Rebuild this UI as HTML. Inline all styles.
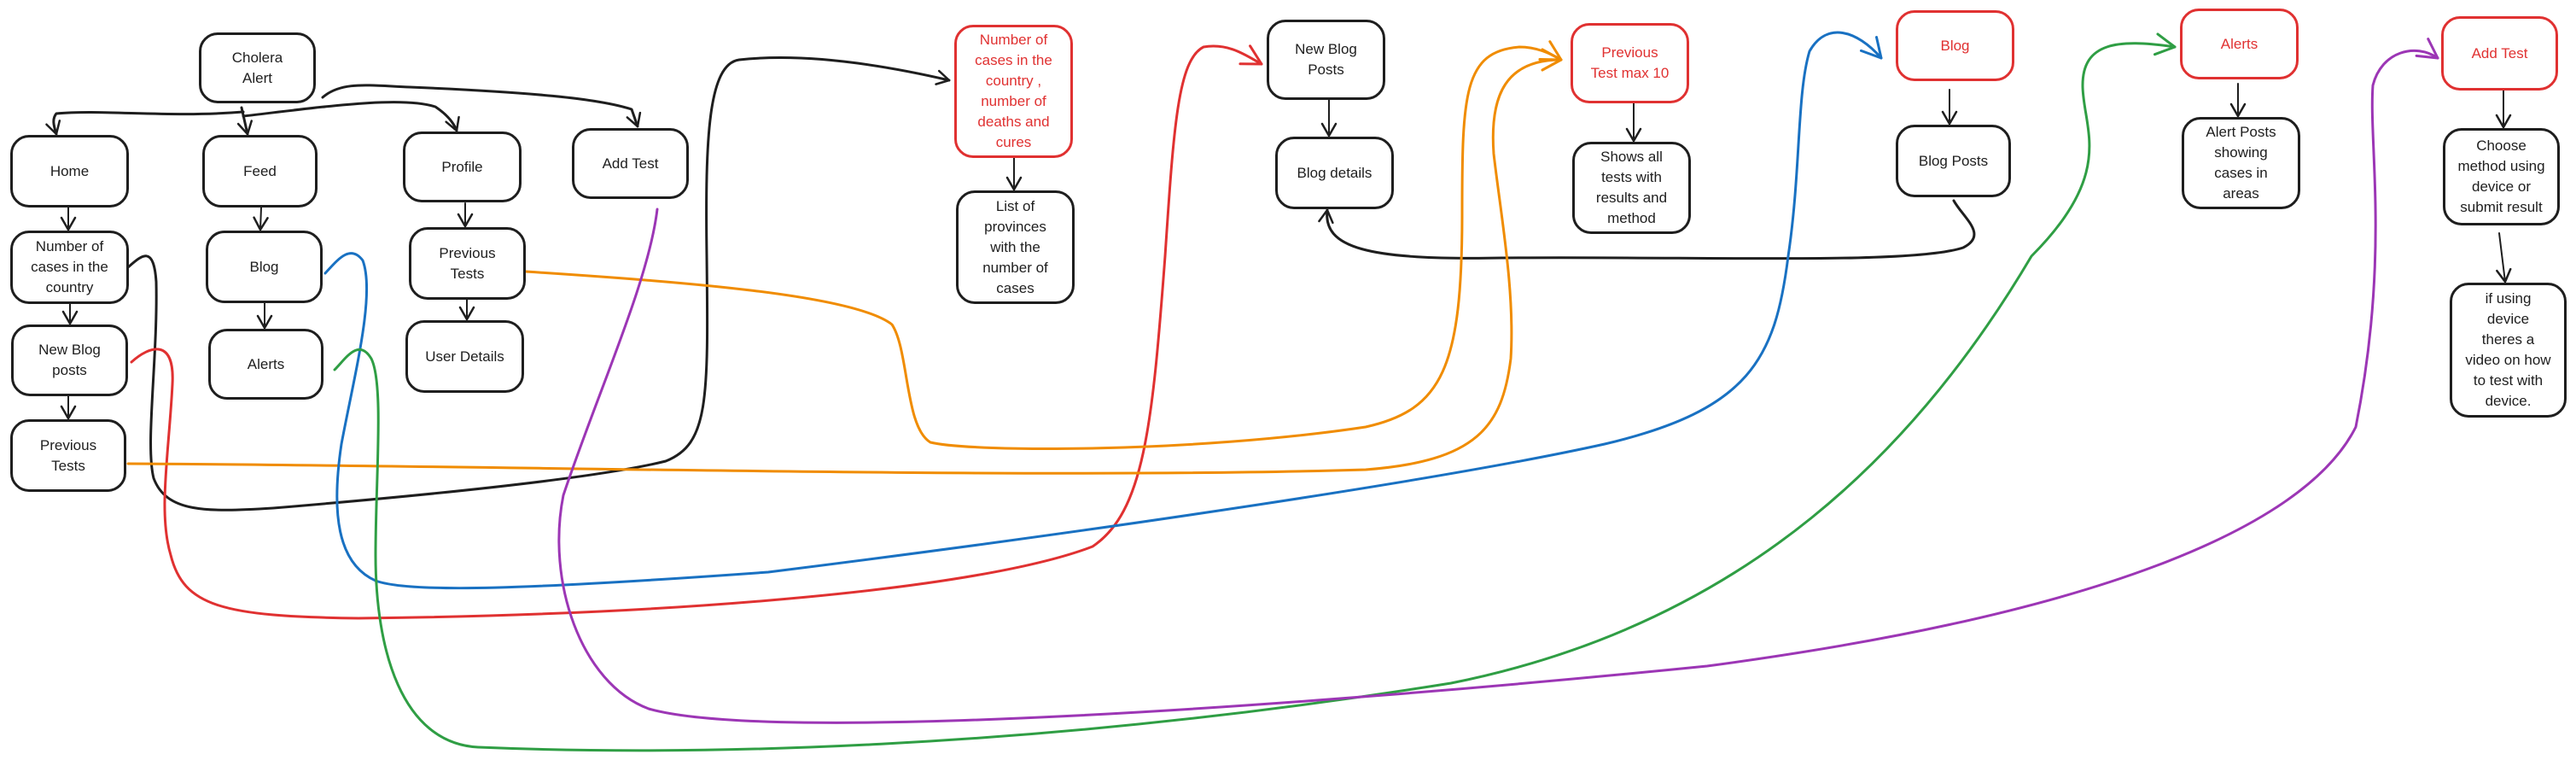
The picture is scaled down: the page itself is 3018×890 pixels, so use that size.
<!DOCTYPE html>
<html><head><meta charset="utf-8"><style>
html,body{margin:0;padding:0;background:#fff;width:3018px;height:890px;overflow:hidden}
.b{position:absolute;box-sizing:border-box;border:3px solid #1e1e1e;border-radius:22px;display:flex;align-items:center;justify-content:center;text-align:center;font-family:"Liberation Sans",sans-serif;font-size:17px;line-height:24px;color:#1e1e1e;background:transparent}
.r{border-color:#e03131;color:#e03131}
svg{position:absolute;left:0;top:0}
</style></head><body>
<svg width="3018" height="890" viewBox="0 0 3018 890" fill="none" stroke-linecap="round" stroke-linejoin="round">
<defs>
<marker id="k" markerWidth="20" markerHeight="20" refX="16" refY="10" orient="auto" markerUnits="userSpaceOnUse"><path d="M2,2 L16,10 L2,18" fill="none" stroke="#1e1e1e" stroke-width="2.5"/></marker>
<marker id="rd" markerWidth="30" markerHeight="30" refX="24" refY="15" orient="auto" markerUnits="userSpaceOnUse"><path d="M2,3 L24,15 L2,27" fill="none" stroke="#e03131" stroke-width="3"/></marker>
<marker id="or" markerWidth="30" markerHeight="30" refX="24" refY="15" orient="auto" markerUnits="userSpaceOnUse"><path d="M2,3 L24,15 L2,27" fill="none" stroke="#f08c00" stroke-width="3"/></marker>
<marker id="bl" markerWidth="30" markerHeight="30" refX="24" refY="15" orient="auto" markerUnits="userSpaceOnUse"><path d="M2,3 L24,15 L2,27" fill="none" stroke="#1971c2" stroke-width="3"/></marker>
<marker id="gr" markerWidth="30" markerHeight="30" refX="24" refY="15" orient="auto" markerUnits="userSpaceOnUse"><path d="M2,3 L24,15 L2,27" fill="none" stroke="#2f9e44" stroke-width="3"/></marker>
<marker id="pu" markerWidth="30" markerHeight="30" refX="24" refY="15" orient="auto" markerUnits="userSpaceOnUse"><path d="M2,3 L24,15 L2,27" fill="none" stroke="#9c36b5" stroke-width="3"/></marker>
</defs>
<g stroke="#1e1e1e" stroke-width="3">
<path d="M285,131 C200,138 120,128 66,133 C60,140 64,150 66,157" marker-end="url(#k)"/>
<path d="M283,126 L290,157" marker-end="url(#k)"/>
<path d="M285,136 C380,125 470,112 510,125 C525,135 532,145 535,153" marker-end="url(#k)"/>
<path d="M378,114 C400,95 430,100 480,102 C620,108 700,115 740,128 L747,148" marker-end="url(#k)"/>
<path d="M150,313 C165,300 180,285 183,330 C185,420 170,520 180,560 C195,600 240,600 320,595 C500,580 700,560 780,540 C830,520 830,470 828,300 C826,160 830,75 866,70 C940,62 1030,75 1112,94" marker-end="url(#k)"/>
<path d="M2289,235 C2300,255 2330,275 2300,290 C2240,310 2000,300 1760,302 C1600,305 1550,290 1555,246" marker-end="url(#k)"/>
</g>
<g stroke="#1e1e1e" stroke-width="2">
<path d="M80,243 L80,269" marker-end="url(#k)"/>
<path d="M82,356 L82,379" marker-end="url(#k)"/>
<path d="M80,464 L80,490" marker-end="url(#k)"/>
<path d="M306,243 L305,269" marker-end="url(#k)"/>
<path d="M310,355 L310,384" marker-end="url(#k)"/>
<path d="M545,238 L545,265" marker-end="url(#k)"/>
<path d="M547,351 L547,374" marker-end="url(#k)"/>
<path d="M1188,185 L1188,222" marker-end="url(#k)"/>
<path d="M1557,117 L1557,159" marker-end="url(#k)"/>
<path d="M1914,121 L1914,165" marker-end="url(#k)"/>
<path d="M2284,105 L2284,145" marker-end="url(#k)"/>
<path d="M2622,98 L2622,136" marker-end="url(#k)"/>
<path d="M2933,106 L2933,149" marker-end="url(#k)"/>
<path d="M2928,273 L2935,330" marker-end="url(#k)"/>
</g>
<path d="M154,424 C175,405 205,395 202,450 C198,530 185,600 200,650 C215,710 260,722 420,724 C800,720 1150,690 1280,640 C1340,600 1350,500 1365,300 C1375,150 1380,70 1410,55 C1440,50 1460,65 1478,75" stroke="#e03131" stroke-width="3" marker-end="url(#rd)"/>
<path d="M616,318 C800,330 1000,345 1045,380 C1065,410 1060,500 1090,518 C1140,530 1400,530 1600,500 C1690,480 1713,430 1713,250 C1713,110 1715,60 1780,55 C1800,55 1815,62 1829,70" stroke="#f08c00" stroke-width="3" marker-end="url(#or)"/>
<path d="M150,543 C600,545 1200,562 1600,550 C1730,540 1760,500 1770,420 C1775,340 1758,250 1750,180 C1745,110 1765,70 1829,70" stroke="#f08c00" stroke-width="3" marker-end="url(#or)"/>
<path d="M381,320 C395,305 410,285 425,305 C440,345 415,440 400,520 C388,600 395,660 440,680 C480,695 620,690 900,670 C1300,620 1700,560 1880,520 C2050,480 2080,420 2095,300 C2110,200 2105,110 2120,60 C2140,25 2175,35 2204,68" stroke="#1971c2" stroke-width="3" marker-end="url(#bl)"/>
<path d="M392,433 C405,420 420,395 435,420 C450,450 440,560 440,650 C440,760 470,870 560,875 C800,885 1200,880 1700,800 C2050,730 2250,520 2380,300 C2480,200 2440,150 2440,100 C2440,50 2480,45 2548,55" stroke="#2f9e44" stroke-width="3" marker-end="url(#gr)"/>
<path d="M770,245 C760,330 700,460 660,580 C640,680 680,800 760,830 C900,870 1500,830 2000,780 C2450,720 2700,620 2760,500 C2800,300 2775,170 2780,100 C2790,60 2830,50 2856,68" stroke="#9c36b5" stroke-width="3" marker-end="url(#pu)"/>
</svg>
<div class="b" style="left:233px;top:38px;width:137px;height:83px">Cholera<br>Alert</div>
<div class="b" style="left:12px;top:158px;width:139px;height:85px">Home</div>
<div class="b" style="left:237px;top:158px;width:135px;height:85px">Feed</div>
<div class="b" style="left:472px;top:154px;width:139px;height:83px">Profile</div>
<div class="b" style="left:670px;top:150px;width:137px;height:83px">Add Test</div>
<div class="b" style="left:12px;top:270px;width:139px;height:86px">Number of<br>cases in the<br>country</div>
<div class="b" style="left:241px;top:270px;width:137px;height:85px">Blog</div>
<div class="b" style="left:479px;top:266px;width:137px;height:85px">Previous<br>Tests</div>
<div class="b" style="left:13px;top:380px;width:137px;height:84px">New Blog<br>posts</div>
<div class="b" style="left:244px;top:385px;width:135px;height:83px">Alerts</div>
<div class="b" style="left:475px;top:375px;width:139px;height:85px">User Details</div>
<div class="b" style="left:12px;top:491px;width:136px;height:85px">Previous<br>Tests</div>
<div class="b r" style="left:1118px;top:29px;width:139px;height:156px">Number of<br>cases in the<br>country ,<br>number of<br>deaths and<br>cures</div>
<div class="b" style="left:1120px;top:223px;width:139px;height:133px">List of<br>provinces<br>with the<br>number of<br>cases</div>
<div class="b" style="left:1484px;top:23px;width:139px;height:94px">New Blog<br>Posts</div>
<div class="b" style="left:1494px;top:160px;width:139px;height:85px">Blog details</div>
<div class="b r" style="left:1840px;top:27px;width:139px;height:94px">Previous<br>Test max 10</div>
<div class="b" style="left:1842px;top:166px;width:139px;height:108px">Shows all<br>tests with<br>results and<br>method</div>
<div class="b r" style="left:2221px;top:12px;width:139px;height:83px">Blog</div>
<div class="b" style="left:2221px;top:146px;width:135px;height:85px">Blog Posts</div>
<div class="b r" style="left:2554px;top:10px;width:139px;height:83px">Alerts</div>
<div class="b" style="left:2556px;top:137px;width:139px;height:108px">Alert Posts<br>showing<br>cases in<br>areas</div>
<div class="b r" style="left:2860px;top:19px;width:137px;height:87px">Add Test</div>
<div class="b" style="left:2862px;top:150px;width:137px;height:114px">Choose<br>method using<br>device or<br>submit result</div>
<div class="b" style="left:2870px;top:331px;width:137px;height:158px">if using<br>device<br>theres a<br>video on how<br>to test with<br>device.</div>
</body></html>
